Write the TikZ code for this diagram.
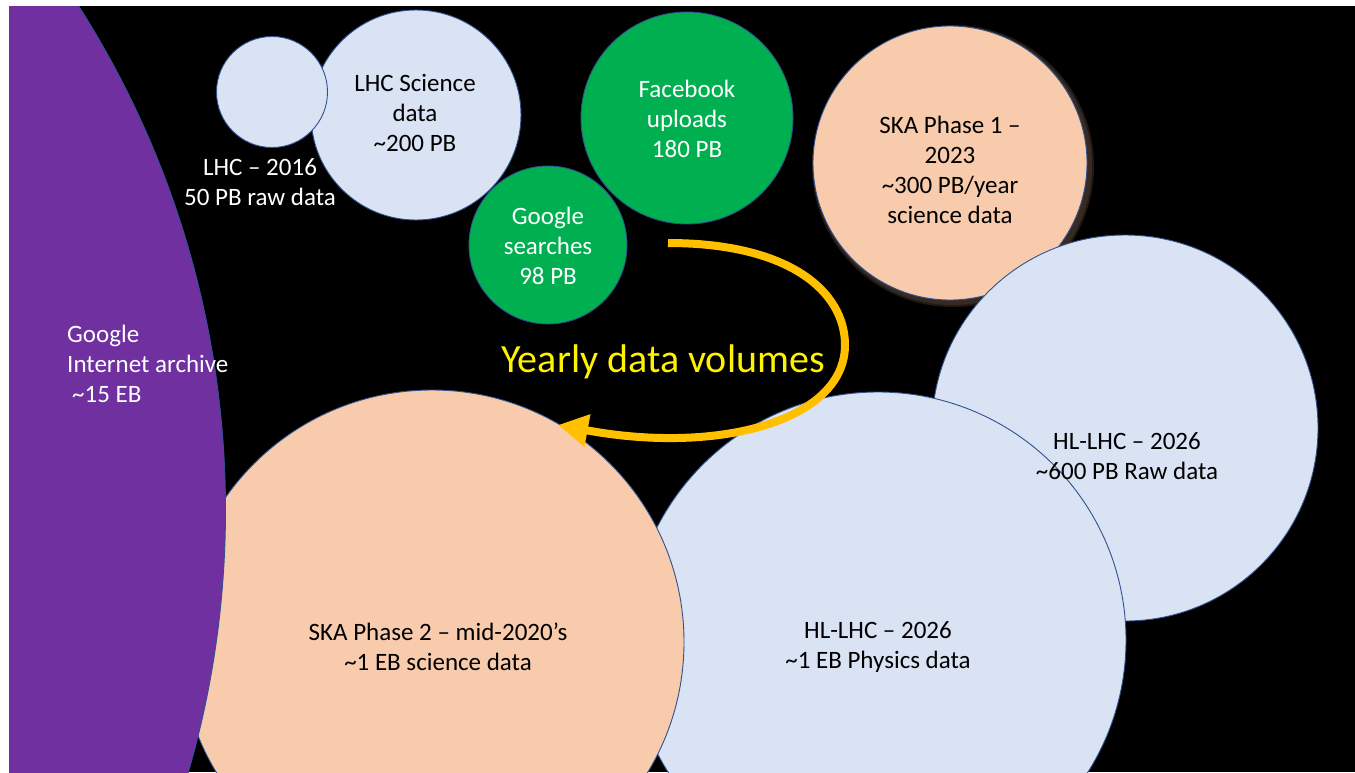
\documentclass[tikz,border=0pt]{standalone}
\usepackage{fontspec}
\setmainfont{Carlito}
\usetikzlibrary{arrows.meta}
\definecolor{bubbleblue}{HTML}{DAE3F3}
\definecolor{bubblepeach}{HTML}{F8CBAD}
\definecolor{bubblegreen}{HTML}{00B050}
\definecolor{bubblepurple}{HTML}{7030A0}
\definecolor{rimblue}{HTML}{2F528F}
\definecolor{arcgold}{HTML}{FFC000}
\definecolor{glowbrown}{HTML}{6B5444}
\begin{document}
\begin{tikzpicture}[x=1pt, y=-1pt,
    bubble/.style={circle, draw=rimblue, line width=0.9pt, inner sep=0pt},
    label25/.style={align=center, inner sep=0pt, font=\fontsize{25}{30}\selectfont},
    >={Triangle[length=30pt,width=31pt]}]
  \useasboundingbox (0,0) rectangle (1355,772);
  \fill[white] (0,0) rectangle (1355,772);
  \fill[black] (9,6) rectangle (1355,772);
  \begin{scope}
    \clip (9,6) rectangle (1355,772);
    % small bubbles at the top
    \node[bubble, fill=bubbleblue, minimum size=210] (lhcsci) at (416,115) {};
    \node[bubble, fill=bubbleblue, minimum size=111] (lhcraw) at (272,92) {};
    \node[bubble, fill=bubblegreen, minimum size=212] (facebook) at (687,118) {};
    \node[bubble, fill=bubblegreen, minimum size=158] (google) at (548,245) {};
    % SKA phase 1 with its soft glow
    \foreach \g in {4,2}
      \fill[glowbrown, opacity=0.3] (953,166) circle[radius=137pt+\g pt];
    \node[bubble, fill=bubblepeach, minimum size=274] (skaone) at (950,163) {};
    % the big bubbles
    \node[bubble, fill=bubbleblue, minimum size=386] (hlraw) at (1125,428) {};
    \node[bubble, fill=bubbleblue, minimum size=496] (hlphys) at (878,640) {};
    \node[bubble, fill=bubblepeach, minimum size=504] (skatwo) at (432,642) {};
    \node[bubble, fill=bubblepurple, minimum size=1875] (archive) at (-712,510) {};
  \end{scope}

  \node[label25, text=white] (lhcrawtxt) at (260,182) {LHC -- 2016\\50 PB raw data};
  \node[label25] (lhcscitxt) at (415,113) {LHC Science\\data\\\textasciitilde 200 PB};
  \node[label25, text=white] (facebooktxt) at (687,119) {Facebook\\uploads\\180 PB};
  \node[label25, text=white] (googletxt) at (548,246) {Google\\searches\\98 PB};
  \node[label25] (skaonetxt) at (950,170) {SKA Phase 1 --\\2023\\\textasciitilde 300 PB/year\\science data};
  \node[label25] (hlrawtxt) at (1127,456) {HL-LHC -- 2026\\\textasciitilde 600 PB Raw data};
  \node[label25] (hlphystxt) at (878,647) {HL-LHC -- 2026\\\textasciitilde 1 EB Physics data};
  \node[label25] (skatwotxt) at (438,647) {SKA Phase 2 -- mid-2020's\\\textasciitilde 1 EB science data};
  \node[label25, text=white, align=left, anchor=west] (archivetxt) at (67,364)
    {Google\\Internet archive\\\hspace{5pt}\textasciitilde 15 EB};

  % the yearly arrow
  \coordinate (arcstart) at (668,243);
  \coordinate (arcend) at (558,425);
  \draw[arcgold, line width=8pt, ->] (arcstart)
    .. controls (790,243) and (845,292) .. (845,345)
    .. controls (845,420) and (720,455) .. (arcend);
  \node[text=yellow, inner sep=0pt, font=\fontsize{40}{48}\selectfont] (yearly) at (663,362) {Yearly data volumes};
\end{tikzpicture}
\end{document}
